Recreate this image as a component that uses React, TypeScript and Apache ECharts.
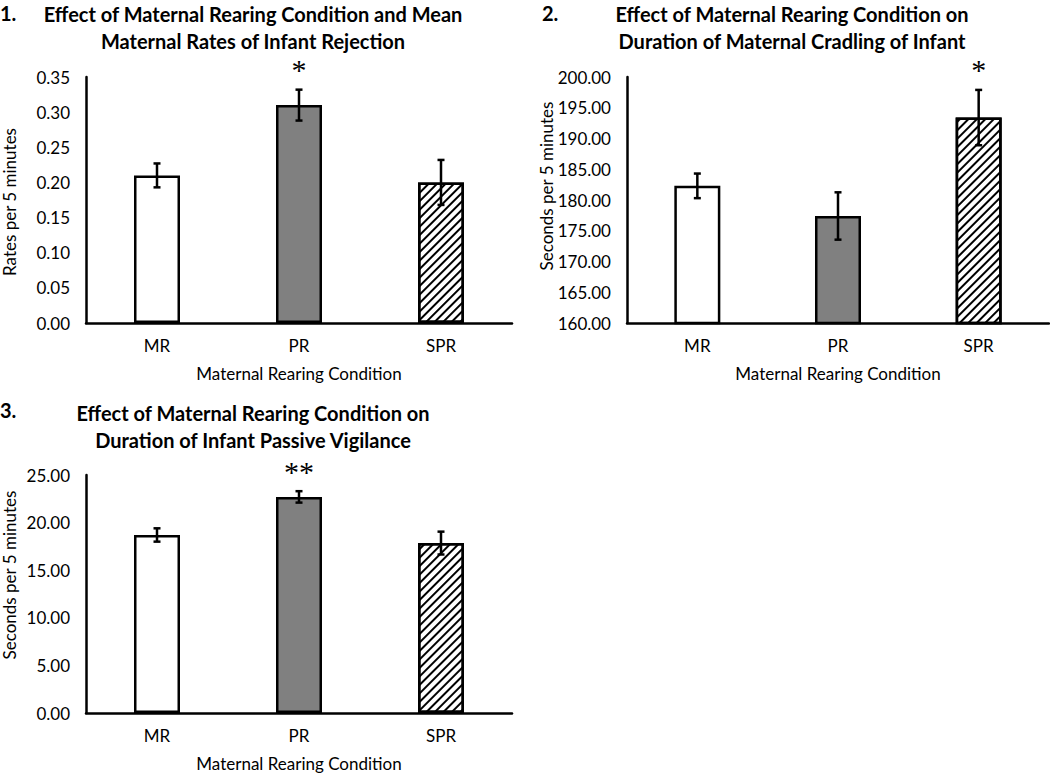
import React, { useEffect, useRef } from "react";
import * as echarts from "echarts";

const categories = ["MR", "PR", "SPR"];

const rejectionMeans = [0.21, 0.31, 0.2];
const rejectionErrors = [0.017, 0.022, 0.032];
const rejectionSig = ["", "*", ""];
const rejectionTicks = { min: 0, max: 0.35, interval: 0.05 };

const cradlingMeans = [182.3, 177.4, 193.4];
const cradlingErrors = [2.0, 3.85, 4.5];
const cradlingSig = ["", "", "*"];
const cradlingTicks = { min: 160, max: 200, interval: 5 };

const vigilanceMeans = [18.7, 22.7, 17.85];
const vigilanceErrors = [0.7, 0.6, 1.2];
const vigilanceSig = ["", "**", ""];
const vigilanceTicks = { min: 0, max: 25, interval: 5 };

const panelNumbers = ["1.", "2.", "3."];
const panelTitles = [
  "Effect of Maternal Rearing Condition and Mean\nMaternal Rates of Infant Rejection",
  "Effect of Maternal Rearing Condition on\nDuration of Maternal Cradling of Infant",
  "Effect of Maternal Rearing Condition on\nDuration of Infant Passive Vigilance",
];
const yAxisNames = ["Rates per 5 minutes", "Seconds per 5 minutes", "Seconds per 5 minutes"];
const xAxisName = "Maternal Rearing Condition";

const FONT = "Lato, 'Open Sans', sans-serif";

export default function App() {
  const ref = useRef<HTMLDivElement>(null);

  useEffect(() => {
    if (!ref.current) return;
    const chart = echarts.init(ref.current, null, { renderer: "svg" });

    const panels = [
      { grid: { left: 86, top: 77, width: 426, height: 246 }, means: rejectionMeans, errs: rejectionErrors, sig: rejectionSig, ticks: rejectionTicks, titleX: 253, titleY: 27, numX: 0, numY: 13, yNameX: 9, yNameY: 202 },
      { grid: { left: 627, top: 77, width: 422, height: 246 }, means: cradlingMeans, errs: cradlingErrors, sig: cradlingSig, ticks: cradlingTicks, titleX: 792, titleY: 27, numX: 542, numY: 13, yNameX: 546, yNameY: 186 },
      { grid: { left: 86, top: 475, width: 426, height: 238 }, means: vigilanceMeans, errs: vigilanceErrors, sig: vigilanceSig, ticks: vigilanceTicks, titleX: 253, titleY: 426, numX: 0, numY: 410, yNameX: 9, yNameY: 575 },
    ];

    const barColors = ["#ffffff", "#808080", "#ffffff"];
    const hatch = {
      symbol: "rect",
      symbolSize: 1,
      dashArrayX: [1, 0],
      dashArrayY: [2, 4],
      rotation: -Math.PI / 4,
      color: "#000000",
    };

    const lineStyle = { color: "#000", width: 2.5 };

    const option: any = {
      animation: false,
      backgroundColor: "#ffffff",
      grid: panels.map((p) => ({ ...p.grid, containLabel: false })),
      xAxis: panels.map((p, i) => ({
        type: "category",
        gridIndex: i,
        data: categories,
        axisLine: { show: true, lineStyle },
        axisTick: { show: false },
        axisLabel: { color: "#000", fontFamily: FONT, fontSize: 17, margin: 14 },
        name: xAxisName,
        nameLocation: "middle",
        nameGap: 42,
        nameTextStyle: { color: "#000", fontFamily: FONT, fontSize: 17 },
        splitLine: { show: false },
      })),
      yAxis: panels.map((p, i) => ({
        type: "value",
        gridIndex: i,
        min: p.ticks.min,
        max: p.ticks.max,
        interval: p.ticks.interval,
        axisLine: { show: true, lineStyle },
        axisTick: { show: false },
        splitLine: { show: false },
        axisLabel: {
          color: "#000",
          fontFamily: FONT,
          fontSize: 17,
          margin: 16,
          formatter: (v: number) => v.toFixed(2),
        },
      })),
      series: [
        ...panels.map((p, i) => ({
          type: "bar",
          xAxisIndex: i,
          yAxisIndex: i,
          barWidth: 46,
          data: p.means.map((m, j) => ({
            value: m,
            itemStyle: {
              color: barColors[j],
              borderColor: "#000",
              borderWidth: 2.5,
              ...(j === 2 ? { decal: hatch } : {}),
            },
          })),
          z: 2,
        })),
        ...panels.map((p, i) => ({
          type: "custom",
          xAxisIndex: i,
          yAxisIndex: i,
          z: 10,
          data: p.means.map((m, j) => [j, m + p.errs[j], m - p.errs[j]]),
          encode: { x: 0, y: [1, 2] },
          renderItem: (params: any, api: any) => {
            const idx = api.value(0);
            const top = api.coord([idx, api.value(1)]);
            const bot = api.coord([idx, api.value(2)]);
            const hw = 3.5;
            const st = { stroke: "#000", lineWidth: 2.5 };
            const children: any[] = [
              { type: "line", shape: { x1: top[0], y1: top[1], x2: bot[0], y2: bot[1] }, style: st },
              { type: "line", shape: { x1: top[0] - hw, y1: top[1], x2: top[0] + hw, y2: top[1] }, style: st },
              { type: "line", shape: { x1: bot[0] - hw, y1: bot[1], x2: bot[0] + hw, y2: bot[1] }, style: st },
            ];
            const s = p.sig[params.dataIndex];
            if (s) {
              children.push({
                type: "text",
                x: top[0],
                y: top[1] - 20,
                style: {
                  text: s,
                  font: "30px 'Liberation Serif', serif",
                  fill: "#000",
                  textAlign: "center",
                  textVerticalAlign: "middle",
                },
              });
            }
            return { type: "group", children };
          },
        })),
      ],
      graphic: [
        ...panels.map((p, i) => ({
          type: "text",
          x: p.titleX,
          y: p.titleY,
          style: {
            text: panelTitles[i],
            font: `bold 20px ${FONT}`,
            fill: "#000",
            textAlign: "center",
            textVerticalAlign: "middle",
            lineHeight: 27,
          },
        })),
        ...panels.map((p, i) => ({
          type: "text",
          x: p.numX,
          y: p.numY,
          style: {
            text: panelNumbers[i],
            font: `bold 20px ${FONT}`,
            fill: "#000",
            textAlign: "left",
            textVerticalAlign: "middle",
          },
        })),
        ...panels.map((p, i) => ({
          type: "text",
          x: p.yNameX,
          y: p.yNameY,
          rotation: Math.PI / 2,
          style: {
            text: yAxisNames[i],
            font: `17px ${FONT}`,
            fill: "#000",
            textAlign: "center",
            textVerticalAlign: "middle",
          },
        })),
      ],
    };

    chart.setOption(option);
    return () => chart.dispose();
  }, []);

  return (
    <div
      ref={ref}
      style={{ position: "fixed", left: 0, top: 0, width: 1050, height: 773, background: "#fff" }}
    />
  );
}
